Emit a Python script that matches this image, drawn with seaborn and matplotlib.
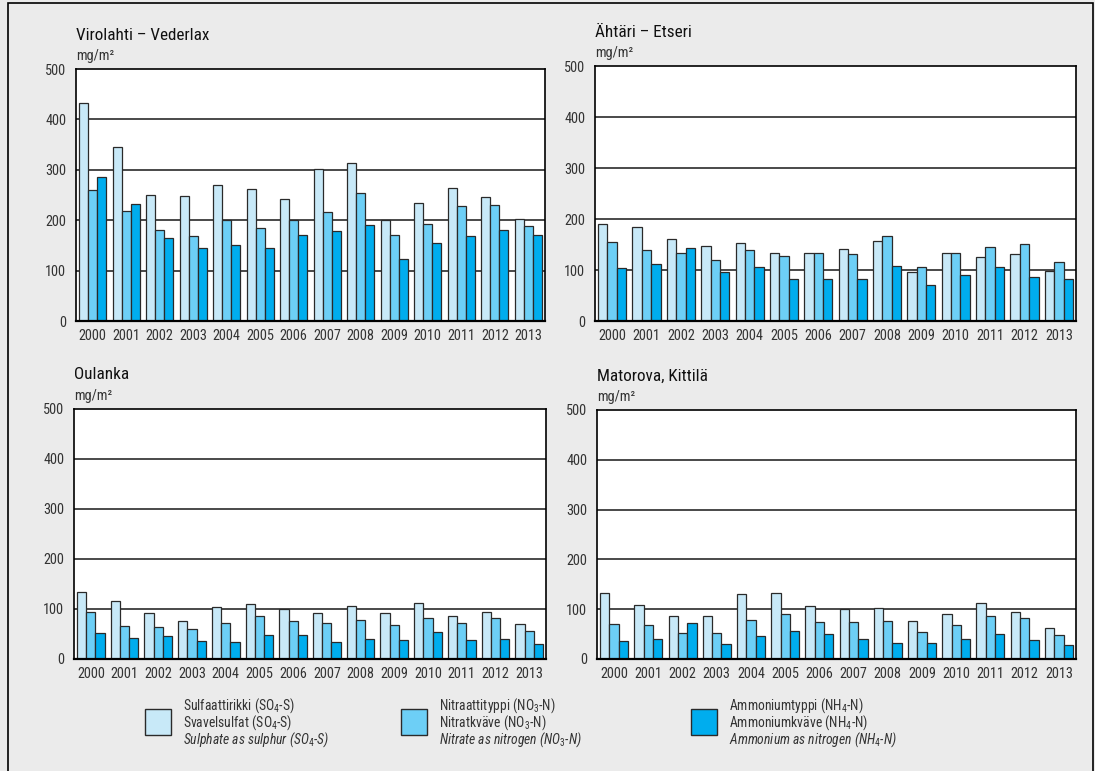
import matplotlib.pyplot as plt
import matplotlib.patches as mpatches
from matplotlib import font_manager
import numpy as np
import pandas as pd
import seaborn as sns

# ---------------------------------------------------------------------------
# Data (mg/m2)
# ---------------------------------------------------------------------------

years = [str(y) for y in range(2000, 2014)]
compounds = ["SO4-S", "NO3-N", "NH4-N"]

virolahti_so4 = [432, 346, 250, 248, 270, 261, 242, 302, 314, 201, 235, 264, 246, 203]
virolahti_no3 = [259, 218, 181, 169, 200, 185, 201, 216, 253, 170, 193, 229, 231, 189]
virolahti_nh4 = [286, 232, 165, 145, 150, 145, 170, 178, 191, 124, 154, 168, 180, 170]

ahtari_so4 = [190, 185, 160, 148, 152, 133, 133, 141, 156, 96, 133, 126, 132, 99]
ahtari_no3 = [154, 139, 134, 120, 139, 127, 134, 132, 166, 105, 134, 145, 151, 115]
ahtari_nh4 = [103, 111, 144, 96, 105, 83, 83, 82, 107, 70, 90, 105, 86, 82]

oulanka_so4 = [134, 117, 92, 77, 104, 110, 101, 92, 107, 93, 113, 87, 94, 70]
oulanka_no3 = [95, 67, 64, 60, 73, 86, 76, 72, 79, 69, 83, 72, 83, 56]
oulanka_nh4 = [53, 43, 46, 37, 35, 49, 49, 35, 41, 39, 54, 38, 40, 30]

matorova_so4 = [132, 109, 87, 87, 131, 133, 106, 101, 103, 76, 90, 113, 94, 63]
matorova_no3 = [70, 68, 53, 53, 78, 90, 74, 74, 77, 55, 68, 87, 83, 49]
matorova_nh4 = [37, 40, 73, 31, 47, 57, 50, 40, 33, 33, 40, 51, 38, 29]

stations = ["Virolahti – Vederlax", "Ähtäri – Etseri", "Oulanka", "Matorova, Kittilä"]
station_values = [
    (virolahti_so4, virolahti_no3, virolahti_nh4),
    (ahtari_so4, ahtari_no3, ahtari_nh4),
    (oulanka_so4, oulanka_no3, oulanka_nh4),
    (matorova_so4, matorova_no3, matorova_nh4),
]

legend_lines = [
    ["Sulfaattirikki (SO$_\\mathregular{4}$-S)", "Svavelsulfat (SO$_\\mathregular{4}$-S)",
     "Sulphate as sulphur (SO$_\\mathit{4}$-S)"],
    ["Nitraattityppi (NO$_\\mathregular{3}$-N)", "Nitratkväve (NO$_\\mathregular{3}$-N)",
     "Nitrate as nitrogen (NO$_\\mathit{3}$-N)"],
    ["Ammoniumtyppi (NH$_\\mathregular{4}$-N)", "Ammoniumkväve (NH$_\\mathregular{4}$-N)",
     "Ammonium as nitrogen (NH$_\\mathit{4}$-N)"],
]

colors = ["#c8e9f8", "#6dcff6", "#00adee"]
EDGE = "#2a2a2a"
BG = "#ebebeb"

# ---------------------------------------------------------------------------
# Style: the original uses a condensed sans, take the narrowest one installed
# ---------------------------------------------------------------------------

sns.set_theme(style="white")

fonts = font_manager.fontManager.ttflist
names = {f.name for f in fonts}
stretch = "normal"
FS = 9.8
for cand in ["Liberation Sans Narrow", "Roboto Condensed", "Open Sans Condensed",
             "Noto Sans Condensed", "Arial Narrow"]:
    if cand in names:
        family = cand
        break
else:
    if any(f.name == "DejaVu Sans" and f.stretch == "condensed" for f in fonts):
        family, stretch = "DejaVu Sans", "condensed"
        FS = 9
    else:
        family = "Roboto" if "Roboto" in names else "Liberation Sans"
        FS = 8.5

plt.rcParams["font.family"] = [family, "DejaVu Sans"]
plt.rcParams["font.stretch"] = stretch
plt.rcParams["mathtext.fontset"] = "custom"
plt.rcParams["mathtext.rm"] = family
plt.rcParams["mathtext.it"] = family + ":italic"

W, H = 1095, 771
fig = plt.figure(figsize=(W / 100, H / 100), dpi=100, facecolor=BG)

# axes boxes in pixels: left, right, top, bottom
boxes = [
    (76, 545, 69, 321),
    (595, 1076, 66, 321),
    (74, 546, 409, 659),
    (597, 1076, 410, 659),
]

for (name, vals), (l, r, t, b) in zip(zip(stations, station_values), boxes):
    ax = fig.add_axes([l / W, 1 - b / H, (r - l) / W, (b - t) / H])
    df = pd.DataFrame({
        "Year": np.repeat(years, 3),
        "Compound": compounds * len(years),
        "Value": np.column_stack(vals).ravel(),
    })
    for y in (100, 200, 300, 400):
        ax.axhline(y, color="#3a3a3a", lw=1.3, zorder=0)
    sns.barplot(
        data=df, x="Year", y="Value", hue="Compound", hue_order=compounds,
        palette=colors, width=0.82, edgecolor=EDGE, linewidth=0.9,
        saturation=1, legend=False, ax=ax, zorder=2,
    )
    ax.set_facecolor("white")
    ax.set_ylim(0, 500)
    ax.set_xlim(-0.5, len(years) - 0.5)
    ax.set_yticks([0, 100, 200, 300, 400, 500])
    ax.set_xlabel("")
    ax.set_ylabel("")
    ax.tick_params(axis="y", direction="out", length=6, width=1, color="#222",
                   labelsize=FS + 0.5, labelcolor="#333", pad=1)
    ax.tick_params(axis="x", length=0, labelsize=FS + 0.5, labelcolor="#333", pad=6)
    for s in ax.spines.values():
        s.set_visible(True)
        s.set_color("black")
        s.set_linewidth(1.2)
    ax.spines["bottom"].set_linewidth(1.6)
    ax.annotate(name, xy=(0, 1), xycoords="axes fraction", xytext=(0, 34),
                textcoords="offset pixels", va="center", ha="left",
                fontsize=FS + 2.5, color="#111")
    ax.annotate("mg/m²", xy=(0, 1), xycoords="axes fraction", xytext=(0, 13),
                textcoords="offset pixels", va="center", ha="left",
                fontsize=FS + 0.5, color="#333")

# legend
legend_x = [145, 401, 691]
for x0, c, lines in zip(legend_x, colors, legend_lines):
    fig.add_artist(mpatches.Rectangle(
        (x0 / W, 1 - 735 / H), 26 / W, 26 / H, transform=fig.transFigure,
        facecolor=c, edgecolor=EDGE, lw=1))
    for i, txt in enumerate(lines):
        fig.text((x0 + 38) / W, 1 - (706 + 17 * i) / H, txt,
                 va="center", ha="left", fontsize=FS, color="#333",
                 style="italic" if i == 2 else "normal")

# outer frame
fig.add_artist(mpatches.Rectangle(
    (8 / W, -0.02), (1093 - 8) / W, 1.02 - 3 / H, transform=fig.transFigure,
    fill=False, edgecolor="black", lw=1.2))

fig.savefig("out.png", dpi=100, facecolor=BG)
